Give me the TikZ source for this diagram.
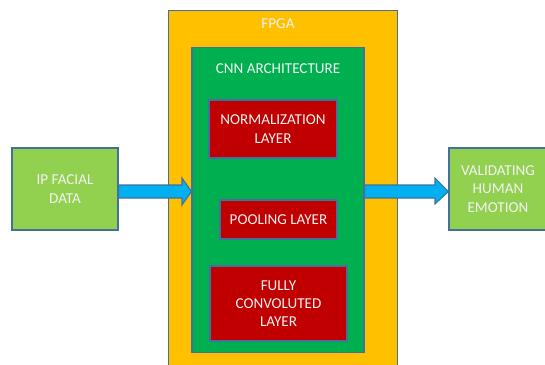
\documentclass[tikz,border=0pt]{standalone}
\usepackage{fontspec}
\setmainfont{Carlito}
\usetikzlibrary{positioning, calc}

\definecolor{fpgaorange}{HTML}{FFC000}
\definecolor{cnngreen}{HTML}{00B050}
\definecolor{layerred}{HTML}{C00000}
\definecolor{iogreen}{HTML}{92D050}
\definecolor{arrowblue}{HTML}{00B0F0}
\definecolor{edgeblue}{HTML}{41719C}
\definecolor{labeltext}{HTML}{F2F2F2}

\tikzset{
  block/.style={draw=edgeblue, line width=0.6pt, rectangle, inner sep=0pt,
    text=labeltext, align=center, font=\fontsize{8.6}{10.4}\selectfont},
  iobox/.style={block, fill=iogreen},
  layerbox/.style={block, fill=layerred},
  caption/.style={text=labeltext, inner sep=0pt, font=\fontsize{8.6}{10.4}\selectfont},
  blockarrow/.style={fill=arrowblue, draw=edgeblue, line width=0.6pt, line join=miter}
}

\begin{document}
\begin{tikzpicture}[x=0.02cm, y=-0.02cm]
    \useasboundingbox (0,0) rectangle (545,365);

    % Outer FPGA and the CNN block inside it
    \node[block, fill=fpgaorange, minimum width=4.58cm, minimum height=7.6cm, anchor=north west] (fpga) at (168,10) {};
    \node[caption] (fpgalabel) at (278,24) {FPGA};
    \node[block, fill=cnngreen, minimum width=3.44cm, minimum height=6.12cm] (cnn) at (278,200) {};
    \node[caption] (cnnlabel) at (278,69) {CNN ARCHITECTURE};

    % Layers
    \node[layerbox, minimum width=2.56cm, minimum height=1.16cm] (norm) at (273,129) {NORMALIZATION\\LAYER};
    \node[layerbox, minimum width=2.34cm, minimum height=0.78cm] (pool) at (278.5,219.5) {POOLING LAYER};
    \node[layerbox, minimum width=2.74cm, minimum height=1.5cm] (fully) at (278.5,303.5) {FULLY\\CONVOLUTED\\LAYER};

    % Input and output
    \node[iobox, minimum width=2.12cm, minimum height=1.64cm] (ip) at (65,189) {IP FACIAL\\DATA};
    \node[iobox, minimum width=1.96cm, minimum height=1.64cm] (valid) at (498,189) {VALIDATING\\HUMAN\\EMOTION};

    % Block arrows
    \draw[blockarrow] (ip.east |- 0,185) -- (182,185) -- (182,178) -- (cnn.west |- 0,191.5)
        -- (182,205) -- (182,198) -- (ip.east |- 0,198) -- cycle;
    \draw[blockarrow] (cnn.east |- 0,185) -- (435,185) -- (435,178) -- (valid.west |- 0,191.5)
        -- (435,204) -- (435,198) -- (cnn.east |- 0,198) -- cycle;
\end{tikzpicture}
\end{document}
